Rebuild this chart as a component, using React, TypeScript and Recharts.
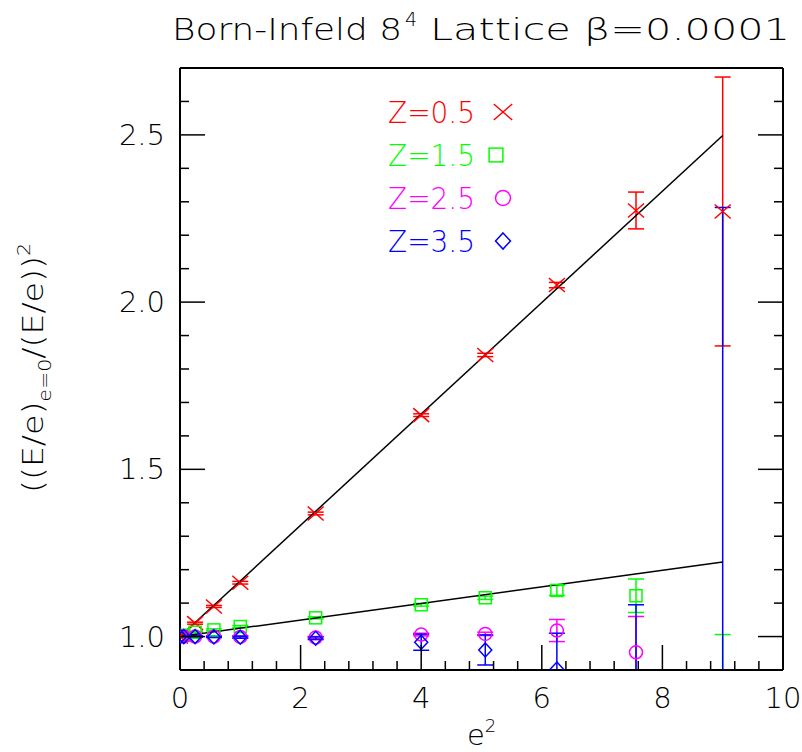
import React from "react";
import { ComposedChart, Scatter, ErrorBar, XAxis, YAxis, ReferenceLine } from "recharts";

// e^2 values shared by all four Z series
const e2 = [0, 0.0625, 0.25, 0.5625, 1, 2.25, 4, 5.0625, 6.25, 7.5625, 9];

const z05 = [1.0, 1.01, 1.04, 1.09, 1.161, 1.368, 1.662, 1.842, 2.051, 2.274, 2.271];
const z05Err = [0, 0.002, 0.003, 0.003, 0.004, 0.004, 0.004, 0.005, 0.008, 0.055, 0.402];

const z15 = [1.0, 1.004, 1.013, 1.02, 1.03, 1.056, 1.095, 1.116, 1.138, 1.122, 0.6];
const z15Err = [0, 0.002, 0.002, 0.003, 0.003, 0.003, 0.004, 0.005, 0.015, 0.05, 0.406];

const z25 = [1.0, 1.0, 1.0, 1.0, 0.999, 0.997, 1.006, 1.008, 1.018, 0.953, 0.6];
const z25Err = [0, 0.001, 0.002, 0.002, 0.003, 0.003, 0.004, 0.005, 0.033, 0.107, 0.25];

const z35 = [1.0, 1.0, 1.0, 0.999, 0.998, 0.995, 0.983, 0.96, 0.903, 0.75, 0.5];
const z35Err = [0, 0.001, 0.002, 0.002, 0.003, 0.004, 0.024, 0.045, 0.107, 0.345, 1.783];

// straight-line fits, drawn from 0 to 9
const fitX = [0, 9];
const fitSteep = [1.0, 2.498];
const fitFlat = [1.0, 1.223];

const xTicks = [0, 0.4, 0.8, 1.2, 1.6, 2, 2.4, 2.8, 3.2, 3.6, 4, 4.4, 4.8, 5.2, 5.6, 6, 6.4, 6.8, 7.2, 7.6, 8, 8.4, 8.8, 9.2, 9.6, 10];
const xLabels = [0, 2, 4, 6, 8, 10];
const yTicks = [0.9, 1.0, 1.1, 1.2, 1.3, 1.4, 1.5, 1.6, 1.7, 1.8, 1.9, 2.0, 2.1, 2.2, 2.3, 2.4, 2.5, 2.6, 2.7];
const yLabels = [1.0, 1.5, 2.0, 2.5];

const legendNames = ["Z=0.5", "Z=1.5", "Z=2.5", "Z=3.5"];
const colors = ["#ff0000", "#00ff00", "#ff00ff", "#0000ff"];

const FONT = '"DejaVu Sans", sans-serif';

// plot box, used to clip error bars that run off the frame
const PLOT = { x: 180, y: 68, w: 603, h: 602 };

const toPoints = (ys: number[], errs: number[]) => e2.map((x, i) => ({ x, y: ys[i], err: errs[i] }));
const toLine = (ys: number[]) => fitX.map((x, i) => ({ x, y: ys[i] }));

const isIn = (v: number, list: number[]) => list.some((l) => Math.abs(l - v) < 1e-6);

const Cross = ({ cx, cy, color, s = 1 }: any) => (
  <g stroke={color} strokeWidth={1.5} fill="none">
    <line x1={cx - 8 * s} y1={cy - 7 * s} x2={cx + 8 * s} y2={cy + 7 * s} />
    <line x1={cx - 8 * s} y1={cy + 7 * s} x2={cx + 8 * s} y2={cy - 7 * s} />
  </g>
);
const Square = ({ cx, cy, color, s = 1 }: any) => (
  <rect x={cx - 6 * s} y={cy - 6 * s} width={12 * s} height={12 * s} stroke={color} strokeWidth={1.5} fill="none" />
);
const Circle = ({ cx, cy, color, s = 1 }: any) => (
  <circle cx={cx} cy={cy} r={6.5 * s} stroke={color} strokeWidth={1.5} fill="none" />
);
const Diamond = ({ cx, cy, color, s = 1 }: any) => (
  <polygon
    points={`${cx},${cy - 7 * s} ${cx + 6.5 * s},${cy} ${cx},${cy + 7 * s} ${cx - 6.5 * s},${cy}`}
    stroke={color}
    strokeWidth={1.5}
    fill="none"
  />
);
const shapes = [Cross, Square, Circle, Diamond];

const XTick = ({ x, y, payload }: any) => {
  const v = payload.value;
  const major = isIn(v, xLabels);
  return (
    <g>
      <line x1={x} x2={x} y1={y} y2={y - (major ? 25 : 9)} stroke="#000" strokeWidth={1.5} />
      {major && (
        <text x={x} y={y + 38} textAnchor="middle" fontSize={29} fontFamily={FONT} fontWeight={200} fill="#000">
          {String(v)}
        </text>
      )}
    </g>
  );
};

const YTickLeft = ({ x, y, payload }: any) => {
  const v = payload.value;
  const major = isIn(v, yLabels);
  return (
    <g>
      <line x1={x} x2={x + (major ? 25 : 9)} y1={y} y2={y} stroke="#000" strokeWidth={1.5} />
      {major && (
        <text x={x - 15} y={y + 10} textAnchor="end" fontSize={29} fontFamily={FONT} fontWeight={200} fill="#000">
          {v.toFixed(1)}
        </text>
      )}
    </g>
  );
};

const YTickRight = ({ x, y, payload }: any) => {
  const major = isIn(payload.value, yLabels);
  return <line x1={x} x2={x - (major ? 25 : 9)} y1={y} y2={y} stroke="#000" strokeWidth={1.5} />;
};

const series = [
  toPoints(z05, z05Err),
  toPoints(z15, z15Err),
  toPoints(z25, z25Err),
  toPoints(z35, z35Err),
];

export default function App() {
  const txt = { fontFamily: FONT, fontWeight: 200, fill: "#000" } as const;
  return (
    <div style={{ position: "absolute", left: 0, top: 0, width: 802, height: 752, background: "#fff" }}>
      <style>{`.recharts-errorBar, .recharts-scatter { clip-path: url(#plotClip); }`}</style>
      <svg width={0} height={0} style={{ position: "absolute" }}>
        <defs>
          <clipPath id="plotClip" clipPathUnits="userSpaceOnUse">
            <rect x={PLOT.x} y={PLOT.y} width={PLOT.w} height={PLOT.h} />
          </clipPath>
        </defs>
      </svg>
      <ComposedChart width={802} height={752} margin={{ top: 68, right: 9, bottom: 42, left: 120 }}>
        <XAxis
          type="number"
          dataKey="x"
          domain={[0, 10]}
          ticks={xTicks}
          interval={0}
          allowDataOverflow
          tickSize={0}
          tickMargin={0}
          height={40}
          axisLine={{ stroke: "#000", strokeWidth: 2 }}
          tickLine={false}
          tick={<XTick />}
        />
        <YAxis
          yAxisId="left"
          type="number"
          dataKey="y"
          domain={[0.9, 2.7]}
          ticks={yTicks}
          interval={0}
          allowDataOverflow
          tickSize={0}
          tickMargin={0}
          width={60}
          axisLine={{ stroke: "#000", strokeWidth: 2 }}
          tickLine={false}
          tick={<YTickLeft />}
        />
        <YAxis
          yAxisId="right"
          orientation="right"
          type="number"
          dataKey="y"
          domain={[0.9, 2.7]}
          ticks={yTicks}
          interval={0}
          allowDataOverflow
          tickSize={0}
          tickMargin={0}
          width={10}
          axisLine={{ stroke: "#000", strokeWidth: 2 }}
          tickLine={false}
          tick={<YTickRight />}
        />
        <ReferenceLine yAxisId="left" y={2.7} stroke="#000" strokeWidth={2} />
        <Scatter
          yAxisId="left"
          data={toLine(fitSteep)}
          line={{ stroke: "#000", strokeWidth: 1.5 }}
          shape={() => <g />}
          isAnimationActive={false}
        />
        <Scatter
          yAxisId="left"
          data={toLine(fitFlat)}
          line={{ stroke: "#000", strokeWidth: 1.5 }}
          shape={() => <g />}
          isAnimationActive={false}
        />
        {series.map((data, i) => {
          const Shape = shapes[i];
          return (
            <Scatter
              key={legendNames[i]}
              name={legendNames[i]}
              yAxisId="left"
              data={data}
              isAnimationActive={false}
              shape={(p: any) => <Shape cx={p.cx} cy={p.cy} color={colors[i]} />}
            >
              <ErrorBar dataKey="err" direction="y" width={8} stroke={colors[i]} strokeWidth={1.5} isAnimationActive={false} />
            </Scatter>
          );
        })}
      </ComposedChart>
      <svg width={802} height={752} style={{ position: "absolute", left: 0, top: 0, pointerEvents: "none" }}>
        <text x={172} y={40} fontSize={31} textLength={230} lengthAdjust="spacingAndGlyphs" {...txt}>
          Born-Infeld 8
        </text>
        <text x={405} y={26} fontSize={19} {...txt}>
          4
        </text>
        <text x={430} y={40} fontSize={31} textLength={360} lengthAdjust="spacingAndGlyphs" {...txt}>
          Lattice β=0.0001
        </text>
        <text x={467} y={745} fontSize={29} {...txt}>
          e
          <tspan fontSize={18} dy={-13}>2</tspan>
        </text>
        <text transform="translate(43,493) rotate(-90)" x={0} y={0} fontSize={29} textLength={250} lengthAdjust="spacingAndGlyphs" {...txt}>
          ((E/e)
          <tspan fontSize={18} dy={8}>e=0</tspan>
          <tspan dy={-8}>/(E/e))</tspan>
          <tspan fontSize={18} dy={-13}>2</tspan>
        </text>
        {legendNames.map((name, i) => {
          const cy = 112 + i * 43;
          const Shape = shapes[i];
          return (
            <g key={name}>
              <text x={388} y={cy + 11} fontSize={30} textLength={87} lengthAdjust="spacingAndGlyphs" {...txt} fill={colors[i]}>
                {name}
              </text>
              <Shape cx={i === 1 ? 496 : 503} cy={cy} color={colors[i]} s={1.15} />
            </g>
          );
        })}
      </svg>
    </div>
  );
}
